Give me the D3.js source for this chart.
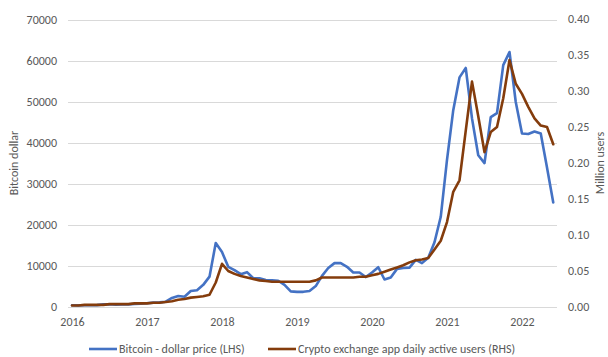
<!DOCTYPE html>
<html>
<head>
<meta charset="utf-8">
<script src="https://cdn.jsdelivr.net/npm/d3@7"></script>
<style>
  html, body { margin: 0; padding: 0; background: #fff; }
  svg { display: block; font-family: Carlito, Lato, "Liberation Sans", sans-serif; }
</style>
</head>
<body>
<svg id="chart" width="608" height="357"></svg>
<script>
// Monthly observations, Jan 2016 – Jun 2022
const yearLabels = ["2016", "2017", "2018", "2019", "2020", "2021", "2022"];

// Bitcoin price in US dollars (left axis)
const bitcoinPrice = [
  410, 405, 415, 435, 460, 640, 660, 580, 605, 640, 725, 830,
  915, 1060, 1130, 1300, 2200, 2700, 2500, 3900, 4100, 5400, 7400, 15600,
  13400, 9800, 9000, 8000, 8500, 7000, 7000, 6600, 6500, 6400, 5400, 3800,
  3700, 3700, 3900, 5100, 7600, 9500, 10700, 10700, 9800, 8400, 8400, 7300,
  8400, 9700, 6700, 7200, 9300, 9500, 9600, 11500, 10700, 12000, 15800, 22000,
  35900, 48000, 56000, 58300, 46000, 37000, 35100, 46300, 47300, 59000, 62200, 50000,
  42300, 42200, 42800, 42300, 34000, 25500
];

// Crypto exchange app daily active users, millions (right axis)
const activeUsers = [
  0.002, 0.002, 0.003, 0.003, 0.003, 0.003, 0.004, 0.004, 0.004, 0.004, 0.005, 0.005,
  0.005, 0.006, 0.006, 0.007, 0.008, 0.010, 0.011, 0.013, 0.014, 0.015, 0.017, 0.034,
  0.060, 0.050, 0.046, 0.043, 0.041, 0.039, 0.037, 0.036, 0.035, 0.035, 0.035, 0.035,
  0.035, 0.035, 0.035, 0.037, 0.041, 0.041, 0.041, 0.041, 0.041, 0.041, 0.042, 0.042,
  0.044, 0.046, 0.049, 0.052, 0.055, 0.058, 0.062, 0.065, 0.066, 0.068, 0.080, 0.092,
  0.118, 0.160, 0.176, 0.245, 0.313, 0.265, 0.215, 0.243, 0.250, 0.290, 0.343, 0.310,
  0.296, 0.278, 0.262, 0.252, 0.250, 0.226
];

const leftTicks = [0, 10000, 20000, 30000, 40000, 50000, 60000, 70000];
const rightTicks = [0, 0.05, 0.10, 0.15, 0.20, 0.25, 0.30, 0.35, 0.40];

const seriesNames = ["Bitcoin - dollar price (LHS)", "Crypto exchange app daily active users (RHS)"];
const seriesColors = ["#4472C4", "#843C0C"];

const svg = d3.select("#chart");
const plot = { left: 68, right: 557, top: 20, bottom: 307 };
const textColor = "#595959";

const x = d3.scaleLinear().domain([-0.64, 77.6]).range([plot.left, plot.right]);
const yL = d3.scaleLinear().domain([0, 70000]).range([plot.bottom, plot.top]);
const yR = d3.scaleLinear().domain([0, 0.40]).range([plot.bottom, plot.top - 1]);

// Horizontal gridlines
svg.append("g").selectAll("line").data(leftTicks).join("line")
  .attr("x1", plot.left).attr("x2", plot.right)
  .attr("y1", d => Math.round(yL(d)) + 0.5).attr("y2", d => Math.round(yL(d)) + 0.5)
  .attr("stroke", "#D9D9D9").attr("stroke-width", 1);

// Left axis
const leftAxis = svg.append("g").attr("transform", `translate(${plot.left - 11},0)`)
  .call(d3.axisLeft(yL).tickValues(leftTicks).tickFormat(d3.format("d")).tickSize(0).tickPadding(0));
leftAxis.select(".domain").remove();

// Right axis
const rightAxis = svg.append("g").attr("transform", `translate(${plot.right + 11},0)`)
  .call(d3.axisRight(yR).tickValues(rightTicks).tickFormat(d3.format(".2f")).tickSize(0).tickPadding(0));
rightAxis.select(".domain").remove();

// Bottom axis with year labels at each January
const bottomAxis = svg.append("g").attr("transform", `translate(0,${plot.bottom + 10})`)
  .call(d3.axisBottom(x).tickValues(yearLabels.map((_, i) => i * 12))
    .tickFormat((d, i) => yearLabels[i]).tickSize(0).tickPadding(0));
bottomAxis.select(".domain").remove();

svg.selectAll(".tick text").attr("fill", textColor).attr("font-size", 12)
  .attr("font-family", "Carlito, Lato, 'Liberation Sans', sans-serif");

// Axis titles
svg.append("text").attr("transform", `translate(18,163) rotate(-90)`)
  .attr("text-anchor", "middle").attr("fill", textColor).attr("font-size", 12)
  .text("Bitcoin dollar");
svg.append("text").attr("transform", `translate(604,163) rotate(-90)`)
  .attr("text-anchor", "middle").attr("fill", textColor).attr("font-size", 12)
  .text("Million users");

// Series lines
const lineL = d3.line().x((d, i) => x(i)).y(d => yL(d));
const lineR = d3.line().x((d, i) => x(i)).y(d => yR(d));

svg.append("path").datum(bitcoinPrice).attr("d", lineL)
  .attr("fill", "none").attr("stroke", seriesColors[0]).attr("stroke-width", 2.6)
  .attr("stroke-linejoin", "round").attr("stroke-linecap", "round");
svg.append("path").datum(activeUsers).attr("d", lineR)
  .attr("fill", "none").attr("stroke", seriesColors[1]).attr("stroke-width", 2.6)
  .attr("stroke-linejoin", "round").attr("stroke-linecap", "round");

// Legend
const legendY = 349;
const legend = svg.append("g");
const legendX = [89, 268];
seriesNames.forEach((name, i) => {
  legend.append("line")
    .attr("x1", legendX[i]).attr("x2", legendX[i] + 28)
    .attr("y1", legendY).attr("y2", legendY)
    .attr("stroke", seriesColors[i]).attr("stroke-width", 2.6);
  legend.append("text")
    .attr("x", legendX[i] + 30).attr("y", legendY).attr("dy", "0.35em")
    .attr("fill", textColor).attr("font-size", 12).text(name);
});
</script>
</body>
</html>
